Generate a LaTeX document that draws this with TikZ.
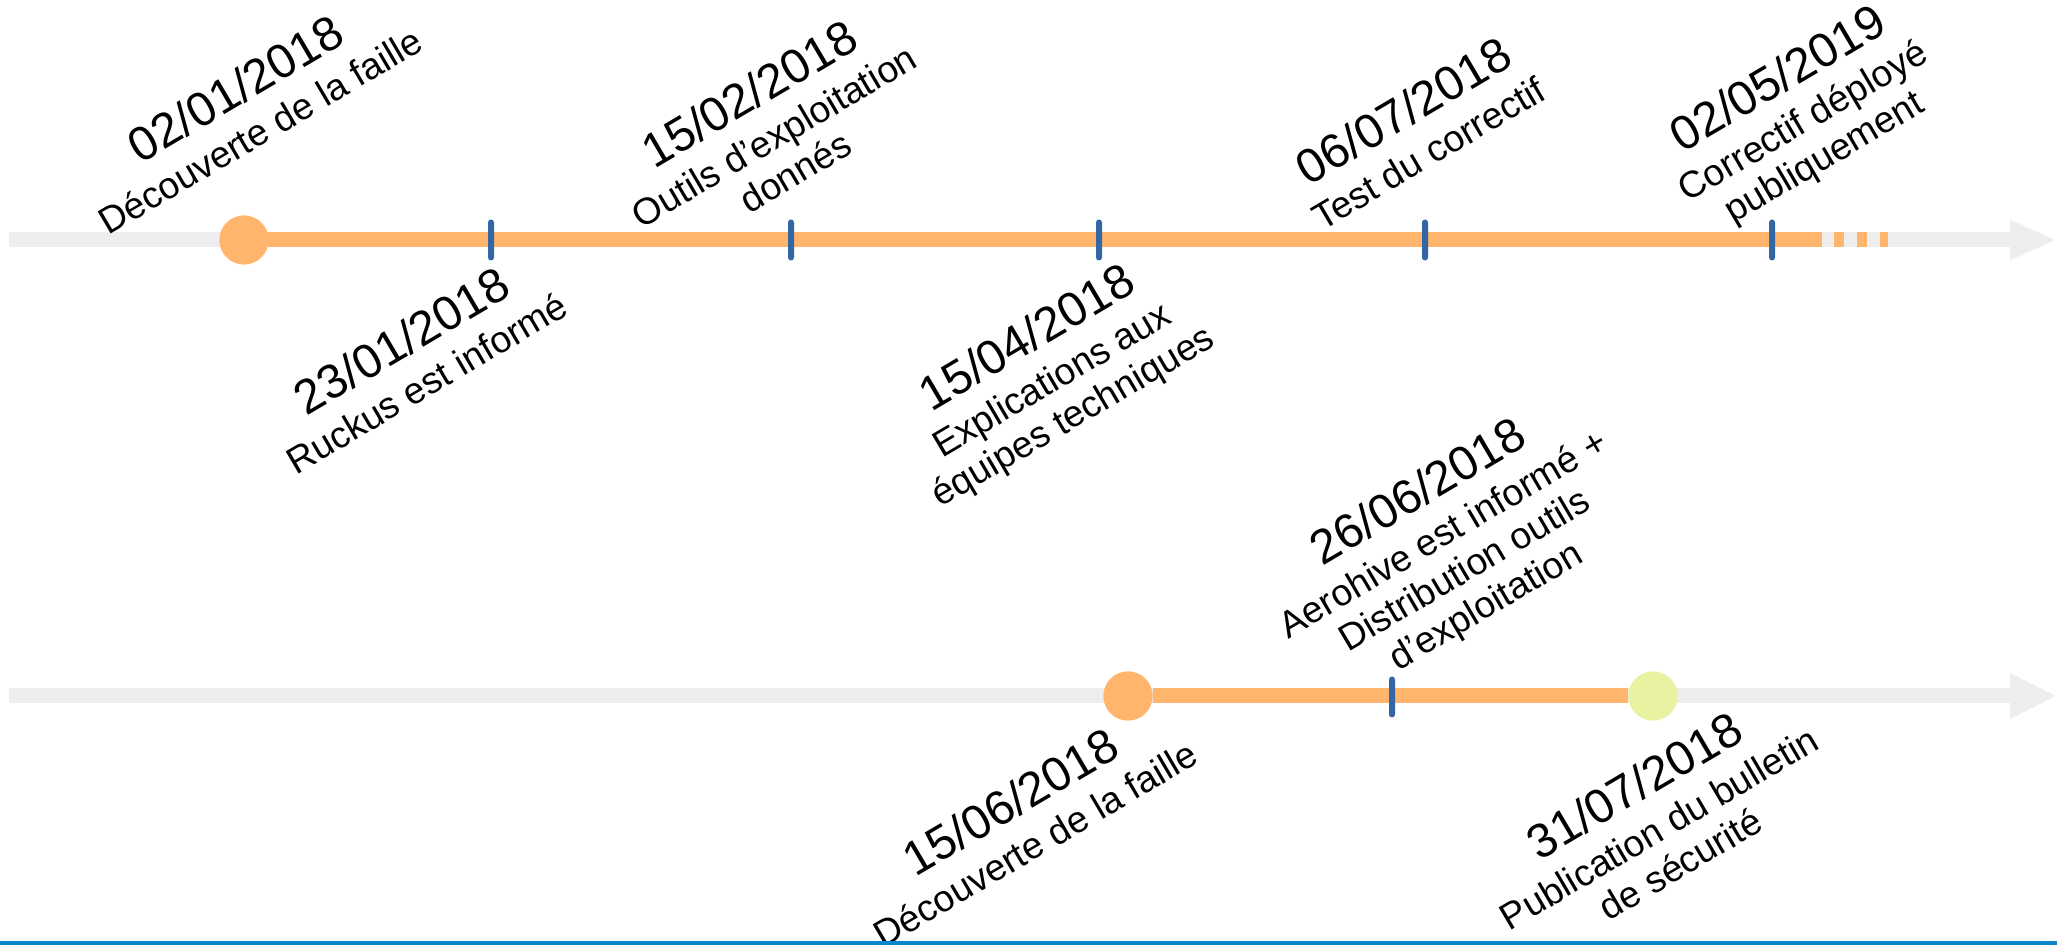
\documentclass[tikz,border=0pt]{standalone}
\usepackage{fontspec}
\setmainfont{Liberation Sans}
\usetikzlibrary{arrows.meta}
\definecolor{axisgrey}{HTML}{EEEEEE}
\definecolor{spanorange}{HTML}{FFB66C}
\definecolor{endgreen}{HTML}{E8F2A1}
\definecolor{tickblue}{HTML}{3465A4}
\definecolor{footblue}{HTML}{0A86C8}
\newcommand\dte[1]{{\fontsize{24}{24}\selectfont #1}\\[2pt]}
\tikzset{
  axisline/.style={draw=axisgrey, line width=7.5pt, -{Triangle[length=23.5pt,width=#1]}},
  spanline/.style={draw=spanorange, line width=7.5pt},
  tickbox/.style={rectangle, fill=tickblue, minimum width=3pt, minimum height=20.5pt, inner sep=0pt, rounded corners=1.5pt},
  dot/.style={circle, fill=#1, minimum size=24.5pt, inner sep=0pt},
  evlabel/.style={rotate=30.5, align=center, font=\fontsize{18.6}{20.8}\selectfont, inner sep=0pt, text=black},
}
\begin{document}
\begin{tikzpicture}[x=0.5pt, y=-0.5pt]
\useasboundingbox (0,0) rectangle (2057,945);
% top timeline
\coordinate (ta) at (9,240);
\coordinate (tb) at (2057,240);
\coordinate (te) at (1822,240);
\coordinate (tda) at (1834,240);
\coordinate (tdb) at (1888,240);
\draw[axisline=18.5pt] (ta) -- (tb);
\node[dot=spanorange] (c1) at (244,240) {};
\draw[spanline] (c1.center) -- (te);
\draw[spanline, dash pattern=on 5pt off 6.5pt] (tda) -- (tdb);
\node[dot=spanorange] at (c1) {};
\node[tickbox] (k1) at (491,240) {};
\node[tickbox] (k2) at (791,240) {};
\node[tickbox] (k3) at (1099,240) {};
\node[tickbox] (k4) at (1425,240) {};
\node[tickbox] (k5) at (1772,240) {};
% bottom timeline
\coordinate (ba) at (9,696);
\coordinate (bb) at (2057,696);
\draw[axisline=21pt] (ba) -- (bb);
\node[dot=spanorange] (c2) at (1128,696) {};
\node[dot=endgreen] (c3) at (1653,696) {};
\draw[spanline] (c2) -- (c3);
\node[dot=spanorange] at (c2) {};
\node[dot=endgreen] at (c3) {};
\node[tickbox] (k6) at (1392,697) {};
% labels
\node[evlabel] (l1) at (247,108) {\dte{02/01/2018}Découverte de la faille};
\node[evlabel] (l2) at (413,360) {\dte{23/01/2018}Ruckus est informé};
\node[evlabel] (l3) at (771,131) {\dte{15/02/2018}Outils d’exploitation\\donnés};
\node[evlabel] (l4) at (1050,377) {\dte{15/04/2018}Explications aux\\équipes techniques};
\node[evlabel] (l5) at (1415,130) {\dte{06/07/2018}Test du correctif};
\node[evlabel] (l6) at (1801,118) {\dte{02/05/2019}Correctif déployé\\publiquement};
\node[evlabel] (l7) at (1452,549) {\dte{26/06/2018}Aerohive est informé +\\Distribution outils\\d’exploitation};
\node[evlabel] (l8) at (1022,821) {\dte{15/06/2018}Découverte de la faille};
\node[evlabel] (l9) at (1656,823) {\dte{31/07/2018}Publication du bulletin\\de sécurité};
% footer rule
\fill[footblue] (0,941) rectangle (2057,945);
\end{tikzpicture}
\end{document}
